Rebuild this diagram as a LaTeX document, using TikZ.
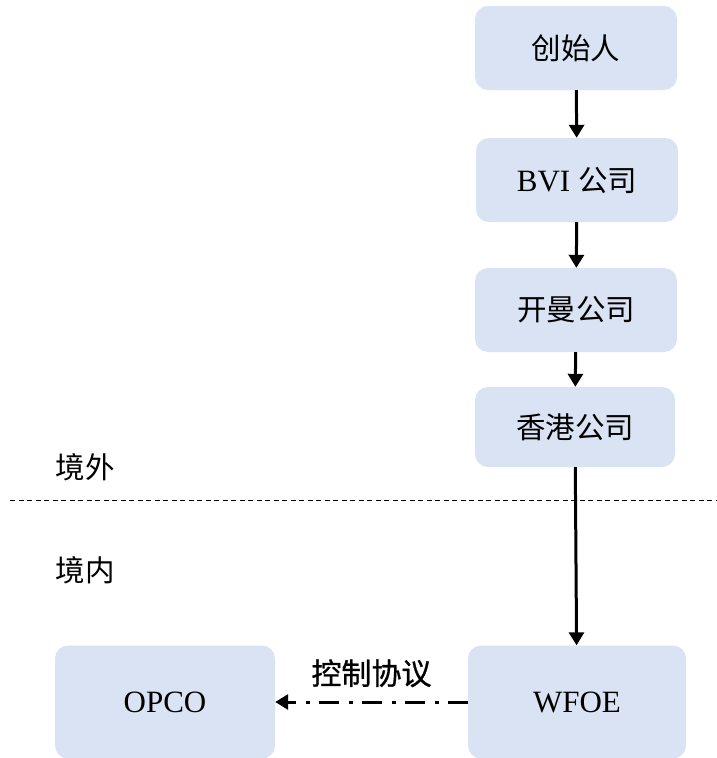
\documentclass[tikz,border=0pt]{standalone}
\usepackage{fontspec}
\setmainfont{Liberation Serif}
\newfontfamily\cjk{Noto Sans CJK SC}
\newfontfamily\cjkm[FakeBold=0.9]{Noto Sans CJK SC}
\usetikzlibrary{arrows.meta}
\definecolor{boxfill}{HTML}{DAE3F3}
\tikzset{
  box/.style={fill=boxfill, draw=none, rounded corners=13pt, minimum width=#1, inner sep=0pt, font=\fontsize{31}{35}\selectfont},
  box/.default=202pt,
  cjkt/.style={font=\cjk\fontsize{29.5}{34}\selectfont},
  conn/.style={line width=3pt, -{Triangle[width=15pt,length=13pt]}},
  ctrl/.style={line width=3pt, dash pattern=on 20pt off 9pt on 4pt off 10pt, -{Triangle[width=15pt,length=13pt]}},
  region/.style={font=\cjk\fontsize{29.5}{34}\selectfont, anchor=center}
}
\begin{document}
\begin{tikzpicture}[x=1pt,y=-1pt]
\useasboundingbox (0,0) rectangle (716,758);
\node[box, cjkt, minimum height=84pt] (founder) at (576,48) {创始人};
\node[box, minimum height=84pt] (bvi) at (577,180) {BVI {\cjk\fontsize{29.5}{34}\selectfont 公司}};
\node[box, cjkt, minimum height=84pt] (cayman) at (576,310) {开曼公司};
\node[box=200pt, cjkt, minimum height=80pt] (hk) at (575,427) {香港公司};
\node[box=218pt, minimum height=113pt] (wfoe) at (577,702) {WFOE};
\node[box=220pt, minimum height=113pt] (opco) at (165,702) {OPCO};
\node[region] (out) at (85,467) {境外};
\node[region] (in) at (85,570) {境内};
\coordinate (sepl) at (10,500);
\coordinate (sepr) at (716,500);
\draw[line width=0.8pt, dash pattern=on 5pt off 3.5pt] (sepl) -- (sepr);
\draw[conn] (founder) -- (bvi);
\draw[conn] (bvi) -- (cayman);
\draw[conn] (cayman) -- (hk);
\draw[conn] (hk) -- (wfoe);
\draw[ctrl] (wfoe.west) -- (opco.east) node[midway, above=10pt, font=\cjkm\fontsize{30}{34}\selectfont] (ctrllabel) {控制协议};
\end{tikzpicture}
\end{document}
